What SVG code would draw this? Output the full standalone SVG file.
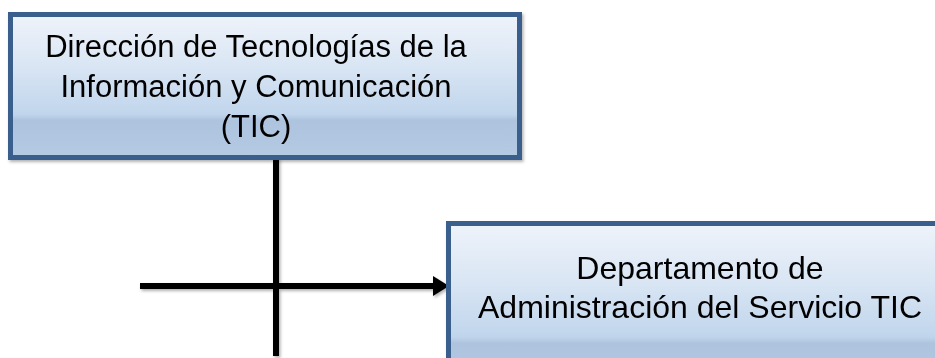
<svg xmlns="http://www.w3.org/2000/svg" width="935" height="358" viewBox="0 0 935 358">
  <style>
    .box { stroke: #3b5e8c; stroke-width: 5; }
    .lbl { font-family: "Liberation Sans", Arial, sans-serif; font-size: 31px; fill: #000000; text-anchor: middle; }
    .lbl2 { font-size: 32px; }
    .conn { stroke: #000000; stroke-width: 6; fill: none; }
  </style>
  <defs>
    <linearGradient id="fillGrad" x1="0" y1="0" x2="0" y2="1">
      <stop offset="0" stop-color="#eef3fa"/>
      <stop offset="0.35" stop-color="#dae6f4"/>
      <stop offset="0.7" stop-color="#c0d5ec"/>
      <stop offset="0.74" stop-color="#adc3de"/>
      <stop offset="1" stop-color="#b5cbe4"/>
    </linearGradient>
    <filter id="shadow" x="-10%" y="-10%" width="130%" height="130%">
      <feDropShadow dx="1.5" dy="2" stdDeviation="1.5" flood-color="#000000" flood-opacity="0.3"/>
    </filter>
    <marker id="arrow" markerUnits="userSpaceOnUse" markerWidth="18" markerHeight="22" refX="0" refY="11" orient="auto">
      <path d="M0,1 L16,11 L0,21 z" fill="#000000"/>
    </marker>
  </defs>

  <g id="connectors" filter="url(#shadow)">
    <line class="conn" x1="276" y1="158" x2="276" y2="356"/>
    <line class="conn" x1="140" y1="286" x2="433" y2="286" marker-end="url(#arrow)"/>
  </g>

  <g id="node-tic" filter="url(#shadow)">
    <rect class="box" x="10.5" y="14.5" width="509" height="143" fill="url(#fillGrad)"/>
    <text class="lbl" x="256" y="57">Dirección de Tecnologías de la</text>
    <text class="lbl" x="256" y="97">Información y Comunicación</text>
    <text class="lbl" x="256" y="137">(TIC)</text>
  </g>

  <g id="node-admin" filter="url(#shadow)">
    <rect class="box" x="448.5" y="223.5" width="500" height="162" fill="url(#fillGrad)"/>
    <text class="lbl lbl2" x="700" y="279">Departamento de</text>
    <text class="lbl lbl2" x="700" y="318">Administración del Servicio TIC</text>
  </g>
</svg>
